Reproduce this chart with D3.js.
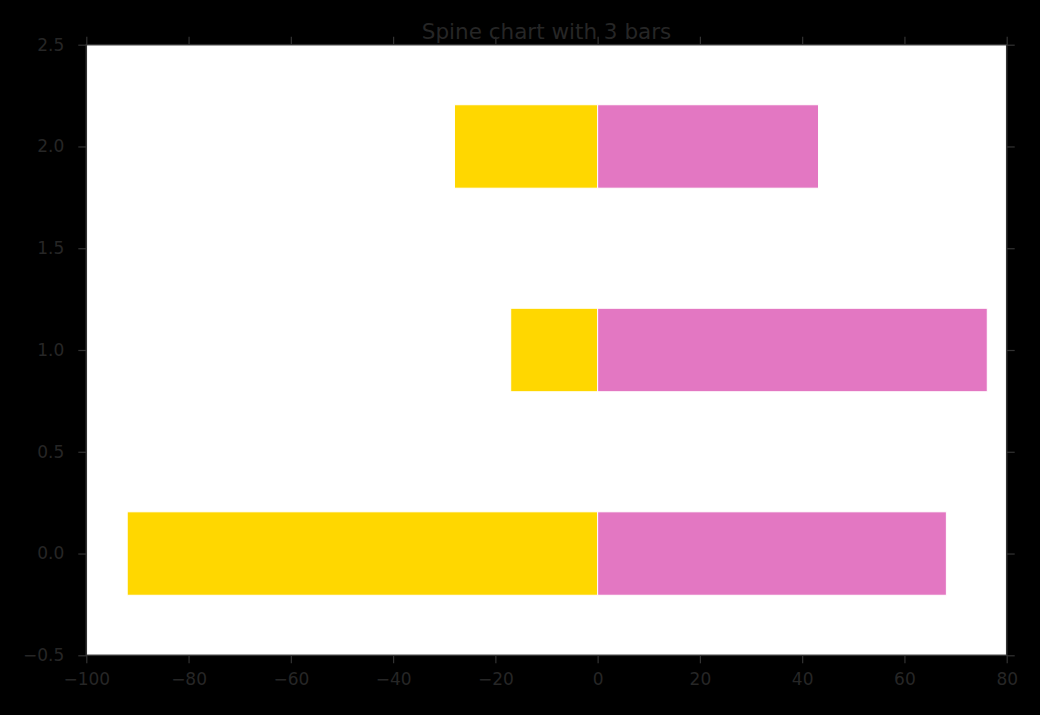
<!DOCTYPE html>
<html><head><meta charset="utf-8">
<script src="https://cdn.jsdelivr.net/npm/d3@7"></script>
<style>html,body{margin:0;padding:0;background:#000;}svg{display:block;}</style>
</head><body>
<svg id="c" width="1040" height="715"></svg>
<script>
const categories = [0, 1, 2];
const negValues = [-92, -17, -28];
const posValues = [68.2, 76.2, 43.2];
const xTicks = [-100, -80, -60, -40, -20, 0, 20, 40, 60, 80];
const yTicks = [-0.5, 0.0, 0.5, 1.0, 1.5, 2.0, 2.5];
const title = "Spine chart with 3 bars";

const W = 1040, H = 715;
const m = {left: 86.3, right: 1040 - 1006.7, top: 44.7, bottom: 715 - 655.3};
const svg = d3.select("#c");
svg.append("rect").attr("width", W).attr("height", H).attr("fill", "#000");

const x = d3.scaleLinear().domain([-100, 80]).range([m.left, W - m.right]);
const y = d3.scaleLinear().domain([-0.5, 2.5]).range([H - m.bottom, m.top]);

svg.append("rect").attr("x", x(-100)).attr("y", y(2.5))
  .attr("width", x(80) - x(-100)).attr("height", y(-0.5) - y(2.5)).attr("fill", "#fff");

const bh = 0.41;
const g = svg.append("g");
g.selectAll("rect.neg").data(categories).join("rect").attr("class", "neg")
  .attr("x", (d, i) => x(negValues[i])).attr("width", (d, i) => x(0) - x(negValues[i]))
  .attr("y", d => y(d + bh / 2)).attr("height", d => y(d - bh / 2) - y(d + bh / 2))
  .attr("fill", "#FFD700").attr("stroke", "#fff").attr("stroke-width", 1);
g.selectAll("rect.pos").data(categories).join("rect").attr("class", "pos")
  .attr("x", x(0)).attr("width", (d, i) => x(posValues[i]) - x(0))
  .attr("y", d => y(d + bh / 2)).attr("height", d => y(d - bh / 2) - y(d + bh / 2))
  .attr("fill", "#E377C2").attr("stroke", "#fff").attr("stroke-width", 1);

const tickCol = "#333", txtCol = "#262626", font = "DejaVu Sans, sans-serif";
function style(sel, labels) {
  sel.select(".domain").remove();
  sel.selectAll(".tick line").attr("stroke", tickCol).attr("stroke-width", 1.2);
  sel.selectAll(".tick text").attr("fill", txtCol).style("font-family", font).style("font-size", "17px");
  if (!labels) sel.selectAll(".tick text").remove();
}
const fmtX = d => d3.format("d")(d).replace("-", "\u2212");
const fmtY = d => d3.format(".1f")(d).replace("-", "\u2212");

svg.append("g").attr("transform", `translate(0,${y(-0.5)})`)
  .call(d3.axisBottom(x).tickValues(xTicks).tickFormat(fmtX).tickSize(8).tickPadding(10))
  .call(s => style(s, true));
svg.append("g").attr("transform", `translate(0,${y(2.5)})`)
  .call(d3.axisTop(x).tickValues(xTicks).tickSize(8)).call(s => style(s, false));
svg.append("g").attr("transform", `translate(${x(-100)},0)`)
  .call(d3.axisLeft(y).tickValues(yTicks).tickFormat(fmtY).tickSize(8).tickPadding(14))
  .call(s => style(s, true));
svg.append("g").attr("transform", `translate(${x(80)},0)`)
  .call(d3.axisRight(y).tickValues(yTicks).tickSize(8)).call(s => style(s, false));

svg.append("rect").attr("x", x(-100)).attr("y", y(2.5))
  .attr("width", x(80) - x(-100)).attr("height", y(-0.5) - y(2.5))
  .attr("fill", "none").attr("stroke", tickCol).attr("stroke-width", 1.5);

svg.append("text").attr("x", (x(-100) + x(80)) / 2).attr("y", 39)
  .attr("text-anchor", "middle").attr("fill", txtCol)
  .style("font-family", font).style("font-size", "21.5px").text(title);
</script>
</body></html>
